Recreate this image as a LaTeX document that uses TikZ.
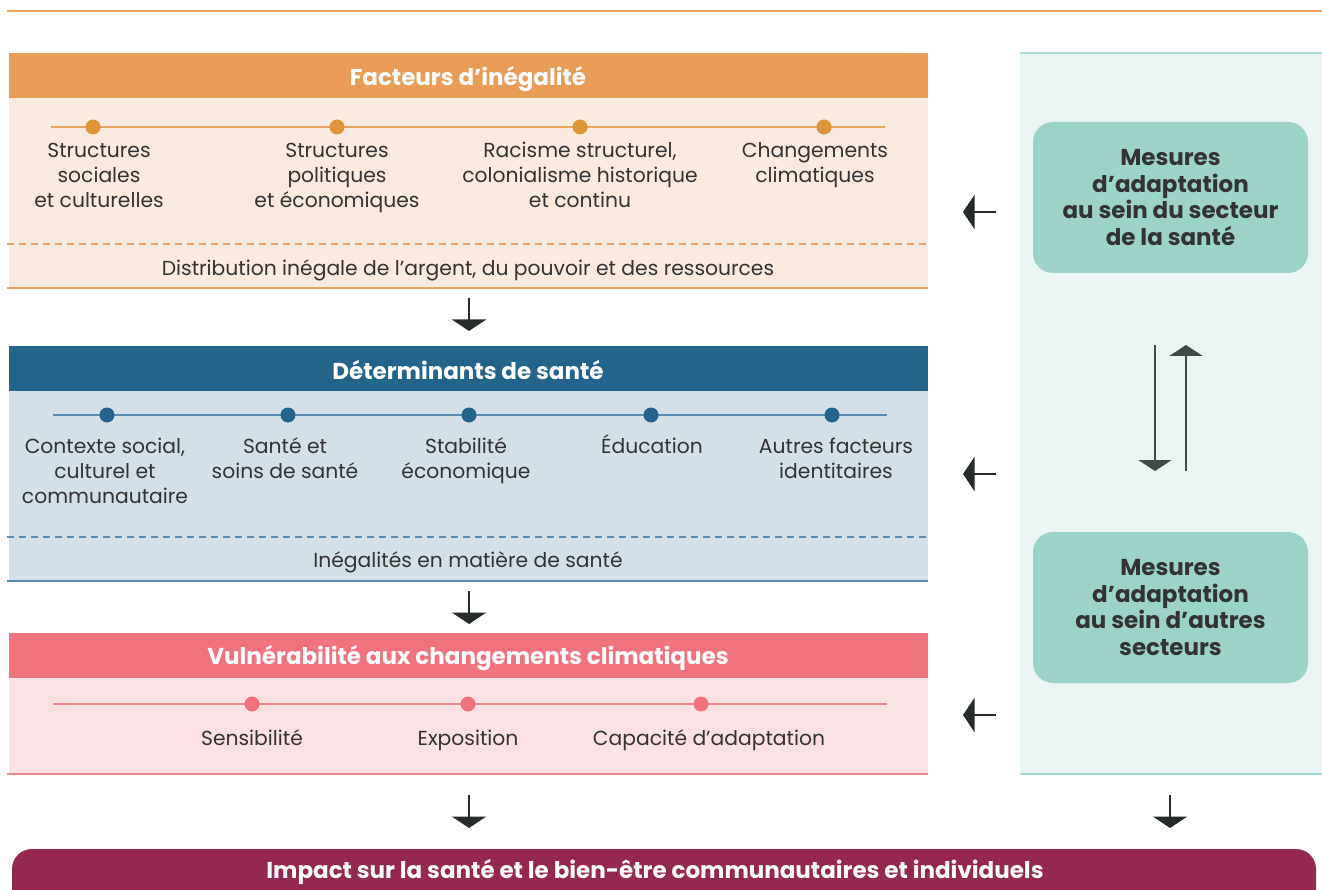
\documentclass[tikz,border=0pt]{standalone}
\usepackage{fontspec}
\setmainfont{Poppins}
\usetikzlibrary{arrows.meta}
\definecolor{orHead}{HTML}{E89C55}
\definecolor{orBody}{HTML}{FBEADF}
\definecolor{orLine}{HTML}{E8A460}
\definecolor{orDot}{HTML}{E0943A}
\definecolor{blHead}{HTML}{22648C}
\definecolor{blBody}{HTML}{D3E0E8}
\definecolor{blLine}{HTML}{5A8BB0}
\definecolor{blDot}{HTML}{22648C}
\definecolor{pkHead}{HTML}{EF727C}
\definecolor{pkBody}{HTML}{FBE1E4}
\definecolor{pkLine}{HTML}{F08890}
\definecolor{pkDot}{HTML}{EF727C}
\definecolor{tlPanel}{HTML}{EAF4F2}
\definecolor{tlBox}{HTML}{9BD3C8}
\definecolor{tlLine}{HTML}{A8DCD2}
\definecolor{txt}{HTML}{333333}
\definecolor{arrowc}{HTML}{262B2B}
\definecolor{arrowv}{HTML}{3E4A47}
\definecolor{impact}{HTML}{952850}
\newcommand\fstrut{\rule{0pt}{20pt}}
\tikzset{
  bodytxt/.style={font=\fontsize{20.3}{25}\selectfont, text=txt, align=center, inner sep=0, anchor=north},
  headtxt/.style={font=\bfseries\fontsize{23}{26}\selectfont, text=white, inner sep=0, anchor=base},
  dotnode/.style={circle, inner sep=0, minimum size=15, fill=#1},
  tline/.style={line width=1.6, draw=#1},
  dashline/.style={line width=1.6, draw=#1, dash pattern=on 7 off 5},
  botline/.style={line width=1.8, draw=#1},
  mbox/.style={rounded corners=20, fill=tlBox, minimum width=275, minimum height=151, align=center,
    font=\bfseries\fontsize{23}{26.7}\selectfont, text=txt, inner sep=0},
  darrow/.style={line width=2.7, draw=arrowc, -{Triangle[length=11.5, width=34]}},
  varrow/.style={line width=2.5, draw=arrowv, -{Triangle[length=11, width=33]}},
}
\begin{document}
\begin{tikzpicture}[x=1pt,y=-1pt]
\useasboundingbox (0,0) rectangle (1322,890);
% top rule
\draw[line width=2.2, draw=orLine] (7,11) -- (1322,11);

% ===== Facteurs d'inégalité =====
\fill[orBody] (9,98) rectangle (928,288);
\fill[orHead] (9,53) rectangle (928,98);
\node[headtxt] (h1) at (468,86) {Facteurs d’inégalité};
\draw[tline=orLine] (51,127) -- (885,127);
\node[dotnode=orDot] (o1) at (93,127) {};
\node[dotnode=orDot] (o2) at (337,127) {};
\node[dotnode=orDot] (o3) at (580,127) {};
\node[dotnode=orDot] (o4) at (824,127) {};
\node[bodytxt] (t11) at (99,137) {\fstrut Structures\\sociales\\et culturelles};
\node[bodytxt] (t12) at (337,137) {\fstrut Structures\\politiques\\et économiques};
\node[bodytxt] (t13) at (580,137) {\fstrut Racisme structurel,\\colonialisme historique\\et continu};
\node[bodytxt] (t14) at (815,137) {\fstrut Changements\\climatiques};
\draw[dashline=orLine] (7,244) -- (928,244);
\node[bodytxt] (d1) at (468,255) {\fstrut Distribution inégale de l’argent, du pouvoir et des ressources};
\draw[botline=orLine] (7,288) -- (928,288);

% ===== Déterminants de santé =====
\fill[blBody] (9,391) rectangle (928,581);
\fill[blHead] (9,346) rectangle (928,391);
\node[headtxt] (h2) at (468,379) {Déterminants de santé};
\draw[tline=blLine] (53,415) -- (887,415);
\node[dotnode=blDot] (b1) at (107,415) {};
\node[dotnode=blDot] (b2) at (288,415) {};
\node[dotnode=blDot] (b3) at (469,415) {};
\node[dotnode=blDot] (b4) at (651,415) {};
\node[dotnode=blDot] (b5) at (832,415) {};
\node[bodytxt] (t21) at (105,433) {\fstrut Contexte social,\\culturel et\\communautaire};
\node[bodytxt] (t22) at (285,433) {\fstrut Santé et\\soins de santé};
\node[bodytxt] (t23) at (466,433) {\fstrut Stabilité\\économique};
\node[bodytxt] (t24) at (652,433) {\fstrut Éducation};
\node[bodytxt] (t25) at (836,433) {\fstrut Autres facteurs\\identitaires};
\draw[dashline=blLine] (7,537) -- (928,537);
\node[bodytxt] (d2) at (468,547) {\fstrut Inégalités en matière de santé};
\draw[botline=blLine] (7,581) -- (928,581);

% ===== Vulnérabilité =====
\fill[pkBody] (9,678) rectangle (928,774);
\fill[pkHead] (9,633) rectangle (928,678);
\node[headtxt] (h3) at (468,664) {Vulnérabilité aux changements climatiques};
\draw[tline=pkLine] (53,704) -- (887,704);
\node[dotnode=pkDot] (p1) at (252,704) {};
\node[dotnode=pkDot] (p2) at (468,704) {};
\node[dotnode=pkDot] (p3) at (701,704) {};
\node[bodytxt] (t31) at (252,725) {\fstrut Sensibilité};
\node[bodytxt] (t32) at (468,725) {\fstrut Exposition};
\node[bodytxt] (t33) at (709,725) {\fstrut Capacité d’adaptation};
\draw[botline=pkLine] (7,774) -- (928,774);

% ===== right panel =====
\fill[tlPanel] (1020,53) rectangle (1322,774);
\draw[botline=tlLine] (1020,53) -- (1322,53);
\draw[botline=tlLine] (1020,774) -- (1322,774);
\node[mbox] (m1) at (1170.5,197.5) {Mesures\\d’adaptation\\au sein du secteur\\de la santé};
\node[mbox] (m2) at (1170.5,607.5) {Mesures\\d’adaptation\\au sein d’autres\\secteurs};

% vertical double arrows
\coordinate (va1) at (1155,345);
\coordinate (va2) at (1155,471);
\coordinate (vb1) at (1186,471);
\coordinate (vb2) at (1186,345);
\draw[varrow] (va1) -- (va2);
\draw[varrow] (vb1) -- (vb2);

% left arrows
\coordinate (la1s) at (996,212);  \coordinate (la1e) at (963,212);
\coordinate (la2s) at (996,474);  \coordinate (la2e) at (963,474);
\coordinate (la3s) at (996,715);  \coordinate (la3e) at (963,715);
\draw[darrow] (la1s) -- (la1e);
\draw[darrow] (la2s) -- (la2e);
\draw[darrow] (la3s) -- (la3e);

% down arrows
\coordinate (da1s) at (469,298); \coordinate (da1e) at (469,331);
\coordinate (da2s) at (469,591); \coordinate (da2e) at (469,624);
\coordinate (da3s) at (469,795); \coordinate (da3e) at (469,828);
\coordinate (da4s) at (1170,795); \coordinate (da4e) at (1170,828);
\draw[darrow] (da1s) -- (da1e);
\draw[darrow] (da2s) -- (da2e);
\draw[darrow] (da3s) -- (da3e);
\draw[darrow] (da4s) -- (da4e);

% impact bar
\fill[impact, rounded corners=20] (12,849) rectangle (1316,915);
\node[font=\bfseries\fontsize{23}{26}\selectfont, text=white, inner sep=0, anchor=base] (imp) at (655,878) {Impact sur la santé et le bien-être communautaires et individuels};
\end{tikzpicture}
\end{document}
